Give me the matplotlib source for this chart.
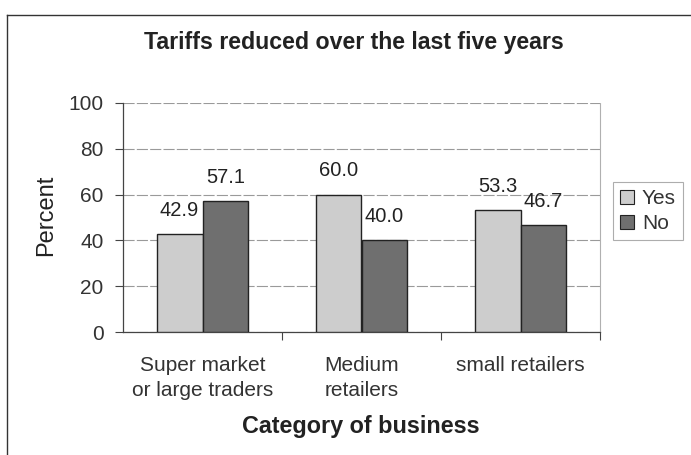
import matplotlib
matplotlib.use("Agg")
import matplotlib.pyplot as plt
import numpy as np
from matplotlib.lines import Line2D
from matplotlib.patches import Patch

categories = ["Super market\nor large traders", "Medium\nretailers", "small retailers"]
yes_values = [42.9, 60.0, 53.3]
no_values = [57.1, 40.0, 46.7]
series_names = ["Yes", "No"]
yticks = [0, 20, 40, 60, 80, 100]

plt.rcParams['font.family'] = ['Liberation Sans', 'DejaVu Sans']

fig = plt.figure(figsize=(6.91, 4.55), dpi=100)
fig.patch.set_facecolor("white")
ax = fig.add_axes([123/691, 1-332/455, 477/691, 229/455])

x = np.arange(len(categories))
w = 0.289
c_yes = "#cdcdcd"
c_no = "#6f6f6f"
b1 = ax.bar(x - w/2, yes_values, w, color=c_yes, edgecolor="#222222", linewidth=1.0, zorder=3)
b2 = ax.bar(x + w/2, no_values, w, color=c_no, edgecolor="#222222", linewidth=1.0, zorder=3)

for bars, vals in ((b1, yes_values), (b2, no_values)):
    for r, v in zip(bars, vals):
        ax.annotate(f"{v:.1f}", (r.get_x() + r.get_width()/2, v), xytext=(0, 17),
                    textcoords="offset points", ha="center", va="center",
                    fontsize=14.5, color="#222222")

ax.set_xlim(-0.5, 2.5)
ax.set_ylim(0, 100)
ax.set_yticks(yticks)
ax.set_yticklabels([str(t) for t in yticks], fontsize=15, color="#333333")
ax.yaxis.grid(True, color="#9a9a9a", linewidth=0.8, linestyle=(0, (10, 2)), zorder=0)
ax.set_axisbelow(True)
ax.tick_params(axis="y", direction="out", length=6, width=0.8, color="#444444", pad=8)

# category labels and ticks between groups
ax.set_xticks(x)
ax.set_xticklabels(categories, fontsize=15, color="#333333", linespacing=1.35)
ax.tick_params(axis="x", length=0, pad=17.5)
ax.set_xticks([0.5, 1.5, 2.5], minor=True)
ax.tick_params(axis="x", which="minor", direction="out", length=6, width=0.8, color="#444444")

ax.spines["top"].set_visible(False)
ax.spines["right"].set_color("#b0b0b0")
ax.spines["right"].set_linestyle((0, (2, 1)))
ax.spines["right"].set_linewidth(0.8)
ax.spines["left"].set_color("#444444")
ax.spines["bottom"].set_color("#444444")
ax.spines["left"].set_linewidth(0.9)
ax.spines["bottom"].set_linewidth(0.9)

fig.text(354/691, 1-43/455, "Tariffs reduced over the last five years", ha="center", va="center",
         fontsize=16.7, fontweight="bold", color="#222222")
fig.text(361/691, 1-427/455, "Category of business", ha="center", va="center",
         fontsize=16.8, fontweight="bold", color="#222222")
fig.text(46/691, 1-215/455, "Percent", ha="center", va="center", rotation=90,
         fontsize=17, color="#222222")

handles = [Patch(facecolor=c_yes, edgecolor="#222222", linewidth=0.8),
           Patch(facecolor=c_no, edgecolor="#222222", linewidth=0.8)]
leg = fig.legend(handles, series_names, loc="center", bbox_to_anchor=(648/691, 1-211/455),
                 fontsize=15, frameon=True, fancybox=False, edgecolor="#999999",
                 handlelength=0.65, handleheight=0.65, handletextpad=0.4, borderpad=0.35,
                 labelspacing=0.3, labelcolor="#333333")
leg.get_frame().set_linewidth(0.8)

# outer chart frame
fig.add_artist(Line2D([7/691, 7/691], [1-15/455, 0], transform=fig.transFigure, color="#333333", linewidth=1.0))
fig.add_artist(Line2D([7/691, 1], [1-15/455, 1-15/455], transform=fig.transFigure, color="#333333", linewidth=1.0))

fig.savefig("out.png", dpi=100)
